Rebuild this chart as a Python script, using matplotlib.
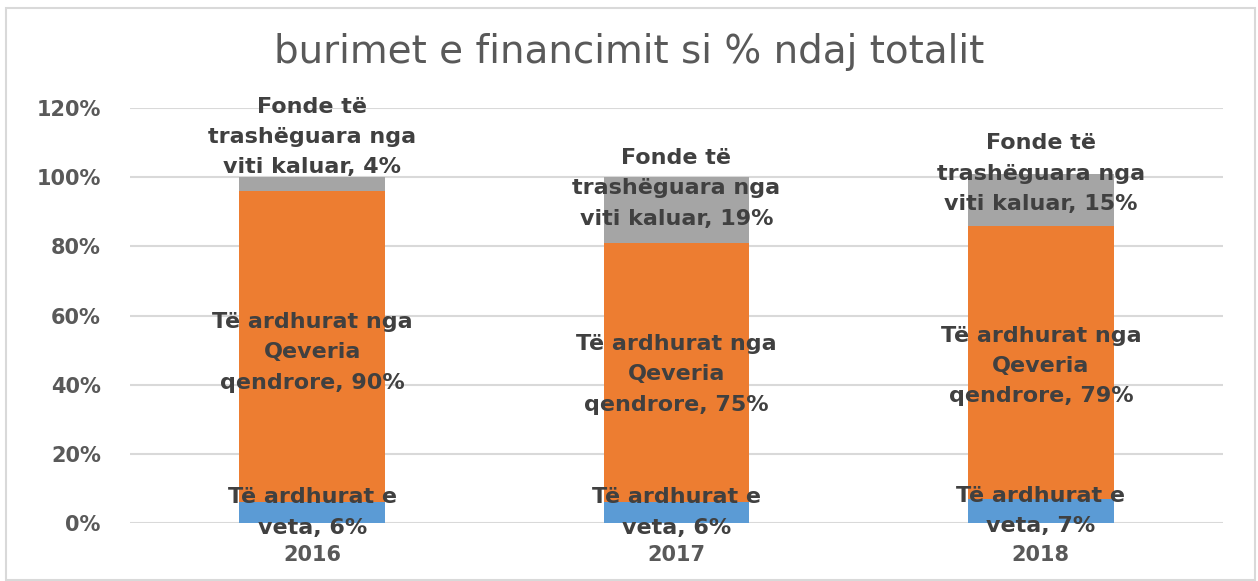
import matplotlib

matplotlib.use("Agg")
import matplotlib.pyplot as plt
from matplotlib.patches import Rectangle
from matplotlib.ticker import PercentFormatter

years = ["2016", "2017", "2018"]
own = [6, 6, 7]            # Të ardhurat e veta
central = [90, 75, 79]     # Të ardhurat nga Qeveria qendrore
carried = [4, 19, 15]      # Fonde të trashëguara nga viti kaluar

own_fmt = "Të ardhurat e\nveta, {}%"
central_fmt = "Të ardhurat nga\nQeveria\nqendrore, {}%"
carried_fmt = "Fonde të\ntrashëguara nga\nviti kaluar, {}%"

# label nudges (percentage points), as the labels were moved by hand
carried_nudge = [13.6, 6.3, 7.5]
central_nudge = [-1.6, -0.5, -1.1]

BLUE, ORANGE, GREY = "#5B9BD5", "#ED7D31", "#A5A5A5"
TXT = "#404040"

fig = plt.figure(figsize=(12.58, 5.81), dpi=100)
ax = fig.add_axes([0.1033, 0.0998, 0.8689, 0.7143])

x = range(len(years))
bottom2 = [a + b for a, b in zip(own, central)]
ax.bar(x, own, width=0.4, color=BLUE, zorder=2)
ax.bar(x, central, width=0.4, bottom=own, color=ORANGE, zorder=2)
ax.bar(x, carried, width=0.4, bottom=bottom2, color=GREY, zorder=2)

lab = dict(ha="center", va="center", fontsize=16, fontweight="bold",
           color=TXT, linespacing=1.65, zorder=3)
for i in x:
    ax.text(i, own[i] / 2, own_fmt.format(own[i]), **lab)
    ax.text(i, own[i] + central[i] / 2 + central_nudge[i],
            central_fmt.format(central[i]), **lab)
    ax.text(i, bottom2[i] + carried[i] / 2 + carried_nudge[i],
            carried_fmt.format(carried[i]), **lab)

ax.set_xlim(-0.5, 2.5)
ax.set_ylim(0, 120)
ax.set_yticks(range(0, 121, 20))
ax.yaxis.set_major_formatter(PercentFormatter(decimals=0))
ax.set_xticks(list(x))
ax.set_xticklabels(years)
ax.tick_params(length=0, labelsize=15, labelcolor="#595959")
ax.tick_params(axis="x", pad=16)
ax.tick_params(axis="y", pad=21)
for t in ax.get_xticklabels() + ax.get_yticklabels():
    t.set_fontweight("bold")
ax.grid(axis="y", color="#D9D9D9", lw=1.5, zorder=0)
for s in ax.spines.values():
    s.set_visible(False)

fig.text(0.5, 0.91, "burimet e financimit si % ndaj totalit", ha="center",
         va="center", fontsize=28, color="#595959")
fig.patches.append(Rectangle((0.005, 0.002), 0.993, 0.984, transform=fig.transFigure,
                             fill=False, edgecolor="#D9D9D9", lw=1.5))

fig.savefig("out.png", dpi=100)
